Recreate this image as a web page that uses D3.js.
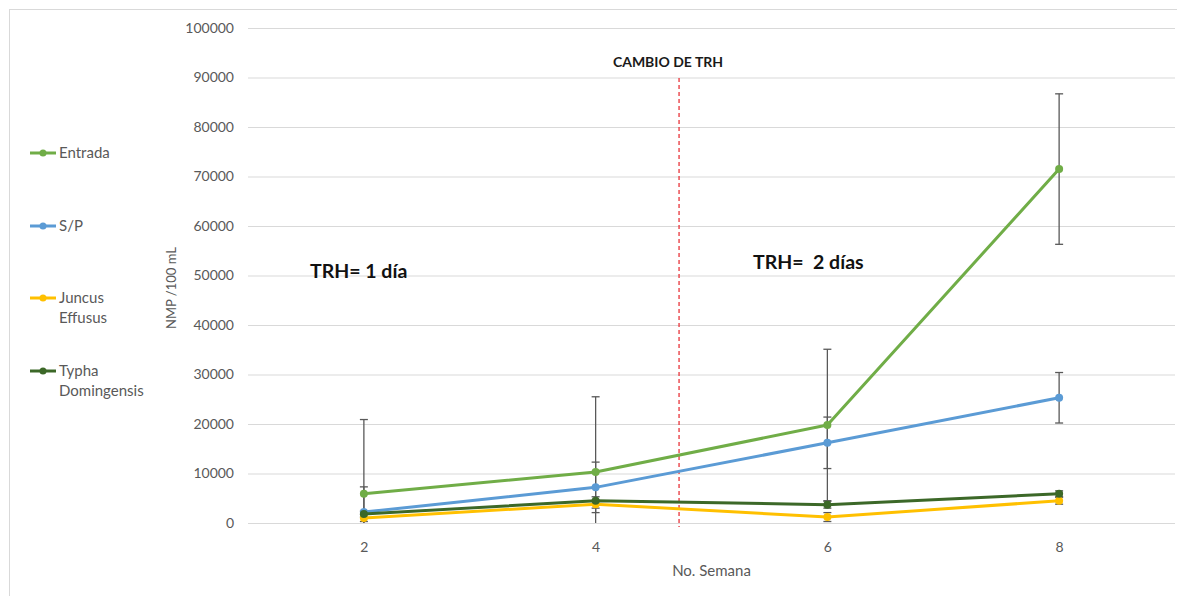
<!DOCTYPE html>
<html>
<head>
<meta charset="utf-8">
<script src="https://cdn.jsdelivr.net/npm/d3@7"></script>
<style>
  html, body { margin: 0; padding: 0; background: #fff; }
  svg { display: block; font-family: Lato, "Open Sans", sans-serif; }
</style>
</head>
<body>
<svg id="chart" width="1177" height="596"></svg>
<script>
// Semanas de muestreo
const weeks = [2, 4, 6, 8];
const yTicks = [0, 10000, 20000, 30000, 40000, 50000, 60000, 70000, 80000, 90000, 100000];

// NMP/100 mL por serie (media) y desviación (barras de error)
const entrada = [5900, 10300, 19800, 71500];
const entradaErr = [15000, 15200, 15300, 15200];
const sp = [2200, 7200, 16200, 25300];
const spErr = [5100, 5100, 5200, 5100];
const juncus = [1000, 3800, 1200, 4500];
const juncusErr = [700, 800, 900, 700];
const typha = [1800, 4500, 3700, 5900];
const typhaErr = [600, 800, 700, 600];

const seriesNames = ["Entrada", "S/P", "Juncus Effusus", "Typha Domingensis"];
const seriesColors = ["#70ad47", "#5b9bd5", "#ffc000", "#3c6828"];

// Semana (posición) del cambio de TRH
const cambioTRH = 4.72;

const series = [
  { name: seriesNames[0], lines: ["Entrada"], color: seriesColors[0], values: entrada, err: entradaErr },
  { name: seriesNames[1], lines: ["S/P"], color: seriesColors[1], values: sp, err: spErr },
  { name: seriesNames[2], lines: ["Juncus", "Effusus"], color: seriesColors[2], values: juncus, err: juncusErr },
  { name: seriesNames[3], lines: ["Typha", "Domingensis"], color: seriesColors[3], values: typha, err: typhaErr }
];

const svg = d3.select("#chart");
const plot = { left: 248, right: 1175, top: 28, bottom: 523 };

const x = d3.scaleLinear().domain([1, 9]).range([plot.left, plot.right]);
const y = d3.scaleLinear().domain([0, 100000]).range([plot.bottom, plot.top]);

// Marco del gráfico
svg.append("rect")
  .attr("x", 9.5).attr("y", 9.5)
  .attr("width", 1200).attr("height", 700)
  .attr("fill", "none").attr("stroke", "#d9d9d9").attr("stroke-width", 1);

// Líneas de cuadrícula y etiquetas del eje Y
const yAxis = d3.axisLeft(y).tickValues(yTicks).tickSize(-(plot.right - plot.left)).tickPadding(14).tickFormat(d3.format("d"));
const gy = svg.append("g").attr("transform", `translate(${plot.left},0)`).call(yAxis);
gy.select(".domain").remove();
gy.selectAll(".tick line").attr("stroke", "#d9d9d9").attr("stroke-width", 1);
gy.selectAll(".tick text").attr("fill", "#595959").style("font-size", "14px").style("font-family", "Lato, sans-serif");

// Etiquetas del eje X
const xAxis = d3.axisBottom(x).tickValues(weeks).tickSize(0).tickPadding(19).tickFormat(d3.format("d"));
const gx = svg.append("g").attr("transform", `translate(0,${plot.bottom})`).call(xAxis);
gx.select(".domain").remove();
gx.selectAll(".tick text").attr("fill", "#595959").style("font-size", "14px").style("font-family", "Lato, sans-serif");

// Títulos de ejes
svg.append("text")
  .attr("x", x(5)).attr("y", 576)
  .attr("text-anchor", "middle")
  .attr("fill", "#595959").style("font-size", "15px")
  .text("No. Semana");

svg.append("text")
  .attr("transform", `translate(176,288) rotate(-90)`)
  .attr("text-anchor", "middle")
  .attr("fill", "#595959").style("font-size", "13px")
  .text("NMP /100 mL");

// Línea de cambio de TRH
svg.append("line")
  .attr("x1", x(cambioTRH)).attr("x2", x(cambioTRH))
  .attr("y1", 78).attr("y2", plot.bottom + 4)
  .attr("stroke", "#e8343a").attr("stroke-width", 1.3)
  .attr("stroke-dasharray", "4,3");

svg.append("text")
  .attr("x", 668).attr("y", 67)
  .attr("text-anchor", "middle")
  .attr("fill", "#1a1a1a").style("font-size", "14px").style("font-weight", "bold")
  .text("CAMBIO DE TRH");

svg.append("text")
  .attr("x", 310).attr("y", 278)
  .attr("fill", "#111").style("font-size", "19.5px").style("font-weight", "bold")
  .text("TRH= 1 día");

svg.append("text")
  .attr("x", 753).attr("y", 269)
  .attr("fill", "#111").style("font-size", "19.5px").style("font-weight", "bold")
  .style("white-space", "pre")
  .text("TRH=  2 días");

// Barras de error
const yc = v => y(Math.max(0, Math.min(100000, v)));
const errG = svg.append("g");
series.forEach(s => {
  s.values.forEach((v, i) => {
    const cx = x(weeks[i]);
    const hi = yc(v + s.err[i]);
    const lo = yc(v - s.err[i]);
    errG.append("line").attr("x1", cx).attr("x2", cx).attr("y1", hi).attr("y2", lo)
      .attr("stroke", "#595959").attr("stroke-width", 1.3);
    [v + s.err[i], v - s.err[i]].forEach(e => {
      if (e >= 0) {
        errG.append("line").attr("x1", cx - 4).attr("x2", cx + 4).attr("y1", yc(e)).attr("y2", yc(e))
          .attr("stroke", "#595959").attr("stroke-width", 1.3);
      }
    });
  });
});

// Series
const line = d3.line().x((d, i) => x(weeks[i])).y(d => y(d));
series.forEach(s => {
  svg.append("path")
    .datum(s.values)
    .attr("d", line)
    .attr("fill", "none")
    .attr("stroke", s.color)
    .attr("stroke-width", 3)
    .attr("stroke-linejoin", "round");
  svg.append("g").selectAll("circle")
    .data(s.values)
    .join("circle")
    .attr("cx", (d, i) => x(weeks[i]))
    .attr("cy", d => y(d))
    .attr("r", 4)
    .attr("fill", s.color);
});

// Leyenda
const legendY = [153, 226, 298, 371];
series.forEach((s, i) => {
  const g = svg.append("g").attr("transform", `translate(0,${legendY[i]})`);
  g.append("line").attr("x1", 30).attr("x2", 56).attr("y1", 0).attr("y2", 0)
    .attr("stroke", s.color).attr("stroke-width", 3);
  g.append("circle").attr("cx", 43).attr("cy", 0).attr("r", 3.5).attr("fill", s.color);
  s.lines.forEach((t, j) => {
    g.append("text").attr("x", 59).attr("y", 5 + j * 20)
      .attr("fill", "#595959").style("font-size", "15px")
      .text(t);
  });
});
</script>
</body>
</html>
